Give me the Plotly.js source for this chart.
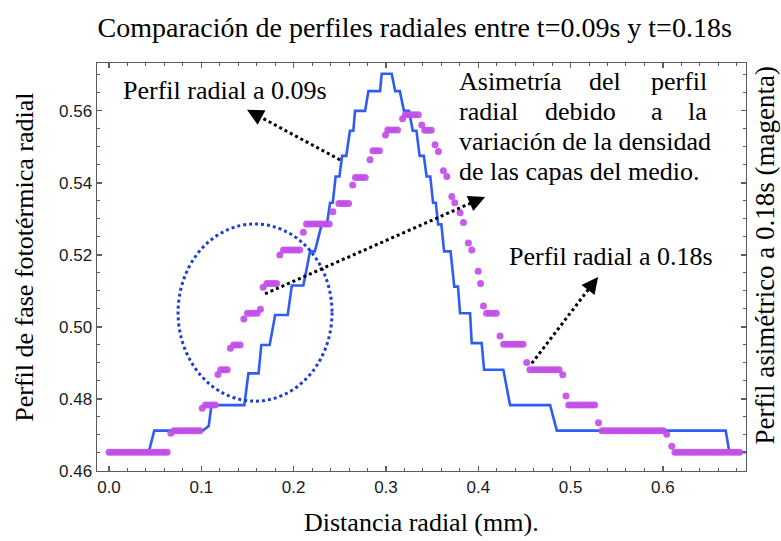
<!DOCTYPE html>
<html>
<head>
<meta charset="utf-8">
<script src="https://cdn.plot.ly/plotly-3.0.1.min.js"></script>
<style>html,body{margin:0;padding:0;background:#fff;}#chart{width:781px;height:541px;}</style>
</head>
<body>
<div id="chart"></div>
<script>
// Perfil radial a 0.09s (blue stepped line): vertices
const blueX = [0.000,0.043,0.049,0.1015,0.108,0.111,0.1466,0.151,0.162,0.165,0.174,0.180,0.1936,0.198,0.2105,0.2178,0.223,0.2304,0.236,0.2395,0.2424,0.2455,0.2496,0.2525,0.2570,0.2610,0.2647,0.2665,0.2774,0.2810,0.2936,0.2954,0.3062,
  0.3100,0.3150,0.3195,0.3250,0.3290,0.3330,0.3365,0.3410,0.3440,0.3480,0.3510,0.3540,0.3565,0.3600,0.3630,0.3700,0.3740,0.3780,0.3803,0.3911,0.3929,0.4037,0.4063,0.4272,0.4344,0.4778,0.4851,0.668,0.672,0.690];
const blueY = [0.4652,0.4652,0.4712,0.4712,0.4725,0.4783,0.4783,0.4871,0.4871,0.4950,0.4950,0.5033,0.5033,0.5115,0.5115,0.5210,0.5210,0.5285,0.5285,0.5345,0.5345,0.5418,0.5418,0.5475,0.5475,0.5545,0.5545,0.5600,0.5600,0.5655,0.5655,0.5703,0.5703,
  0.5655,0.5655,0.5600,0.5600,0.5545,0.5545,0.5475,0.5475,0.5418,0.5418,0.5345,0.5345,0.5285,0.5285,0.5210,0.5210,0.5112,0.5112,0.5038,0.5038,0.4955,0.4955,0.4881,0.4881,0.4783,0.4783,0.4712,0.4712,0.4652,0.4652];

// Perfil radial a 0.18s (magenta points)
const magX = [
  0,0.0035,0.007,0.0105,0.014,0.0175,0.021,0.0245,0.028,0.0315,0.035,0.0385,0.042,0.0455,0.049,0.0525,0.056,0.0595,0.063,
  0.067,
  0.0705,0.074,0.0775,0.081,0.0845,0.088,0.0915,0.095,0.0985,
  0.101,
  0.1045,0.108,0.1115,0.115,
  0.118,
  0.121,0.1245,0.128,
  0.1315,
  0.135,0.1385,0.142,
  0.146,
  0.150,0.1535,0.157,0.1605,
  0.164,0.167,
  0.171,0.1745,0.178,0.1815,
  0.185,
  0.189,0.1925,0.196,0.1995,0.203,0.2065,
  0.2105,
  0.214,0.2175,0.221,0.2245,0.228,0.2315,0.235,0.2385,
  0.2425,
  0.249,0.2525,0.256,0.2595,
  0.264,
  0.267,0.2705,0.274,0.2775,
  0.2828,
  0.286,0.2895,0.293,
  0.2995,
  0.302,0.3055,0.309,0.3125,
  0.318,
  0.321,0.3245,0.328,0.3315,0.335,
  0.3388,
  0.342,0.3455,0.349,
  0.3532,0.3568,0.3622,0.3660,0.3713,0.3745,0.3803,0.3840,0.3893,0.3930,0.3999,0.4025,0.4056,
  0.409,0.4125,0.416,0.4195,
  0.4236,
  0.4275,0.431,0.4345,0.438,0.4415,0.445,0.4485,
  0.4525,
  0.456,0.4595,0.463,0.4665,0.470,0.4735,0.477,0.4805,0.484,0.4875,
  0.4915,0.495,
  0.498,0.5015,0.505,0.5085,0.512,0.5155,0.519,0.5225,0.526,
  0.5302,
  0.534,0.5375,0.541,0.5445,0.548,0.5515,0.555,0.5585,0.562,0.5655,0.569,0.5725,0.576,0.5795,0.583,0.5865,0.590,0.5935,0.597,0.6005,
  0.6042,0.6096,
  0.613,0.6165,0.620,0.6235,0.627,0.6305,0.634,0.6375,0.641,0.6445,0.648,0.6515,0.655,0.6585,0.662,0.6655,0.669,0.6725,0.676,0.6795,0.683
];
const magY = [
  0.4652,0.4652,0.4652,0.4652,0.4652,0.4652,0.4652,0.4652,0.4652,0.4652,0.4652,0.4652,0.4652,0.4652,0.4652,0.4652,0.4652,0.4652,0.4652,
  0.4705,
  0.4712,0.4712,0.4712,0.4712,0.4712,0.4712,0.4712,0.4712,0.4712,
  0.4774,
  0.4783,0.4783,0.4783,0.4783,
  0.4868,
  0.4881,0.4881,0.4881,
  0.4941,
  0.4950,0.4950,0.4950,
  0.5022,
  0.5038,0.5038,0.5038,0.5038,
  0.5049,0.5110,
  0.5121,0.5121,0.5121,0.5121,
  0.5200,
  0.5214,0.5214,0.5214,0.5214,0.5214,0.5214,
  0.5263,
  0.5286,0.5286,0.5286,0.5286,0.5286,0.5286,0.5286,0.5286,
  0.5320,
  0.5343,0.5343,0.5343,0.5343,
  0.5394,
  0.5415,0.5415,0.5415,0.5415,
  0.5464,
  0.5489,0.5489,0.5489,
  0.5533,
  0.5547,0.5547,0.5547,0.5547,
  0.5578,
  0.5589,0.5589,0.5589,0.5589,0.5589,
  0.5561,
  0.5546,0.5546,0.5546,
  0.5506,0.5487,0.5434,0.5418,0.5362,0.5345,0.5317,0.5290,0.5233,0.5214,0.5155,0.5121,0.5058,
  0.5038,0.5038,0.5038,0.5038,
  0.4975,
  0.4952,0.4952,0.4952,0.4952,0.4952,0.4952,0.4952,
  0.4901,
  0.4881,0.4881,0.4881,0.4881,0.4881,0.4881,0.4881,0.4881,0.4881,0.4881,
  0.4867,0.4808,
  0.4783,0.4783,0.4783,0.4783,0.4783,0.4783,0.4783,0.4783,0.4783,
  0.4734,
  0.4712,0.4712,0.4712,0.4712,0.4712,0.4712,0.4712,0.4712,0.4712,0.4712,0.4712,0.4712,0.4712,0.4712,0.4712,0.4712,0.4712,0.4712,0.4712,0.4712,
  0.4702,0.4669,
  0.4652,0.4652,0.4652,0.4652,0.4652,0.4652,0.4652,0.4652,0.4652,0.4652,0.4652,0.4652,0.4652,0.4652,0.4652,0.4652,0.4652,0.4652,0.4652,0.4652,0.4652
];

const xTickVals = [0, 0.1, 0.2, 0.3, 0.4, 0.5, 0.6];
const xTickText = ['0.0','0.1','0.2','0.3','0.4','0.5','0.6'];
const yTickVals = [0.46, 0.48, 0.50, 0.52, 0.54, 0.56];
const yTickText = ['0.46','0.48','0.50','0.52','0.54','0.56'];

const titleText = 'Comparación de perfiles radiales entre t=0.09s y t=0.18s';
const xTitle = 'Distancia radial (mm).';
const yTitle = 'Perfil de fase fototérmica radial';
const y2Title = 'Perfil asimétrico a 0.18s (magenta)';

const serif = 'Liberation Serif, Times New Roman, serif';
const sans = 'Liberation Sans, Arial, sans-serif';
const axColor = '#56605f';

const traces = [
  {x: blueX, y: blueY, type: 'scatter', mode: 'lines', line: {color: '#2f5cf2', width: 2.6}, hoverinfo: 'skip'},
  {x: magX, y: magY, type: 'scatter', mode: 'markers', marker: {color: '#c24ee8', size: 7, opacity: 0.92}, hoverinfo: 'skip'}
];

function axis(range, tv, tt, minorD) {
  return {
    range: range, tickmode: 'array', tickvals: tv, ticktext: tt,
    ticks: 'inside', ticklen: 5, tickwidth: 1.2, tickcolor: axColor,
    showline: true, linecolor: axColor, linewidth: 1.4, mirror: 'allticks',
    showgrid: false, zeroline: false,
    tickfont: {family: sans, size: 17, color: '#1a1a1a'},
    minor: {dtick: minorD, ticks: 'inside', ticklen: 3, tickwidth: 1, tickcolor: axColor, showgrid: false}
  };
}
const xa = axis([-0.013, 0.69], xTickVals, xTickText, 0.02);
xa.minor.tick0 = 0;
const ya = axis([0.46, 0.5733], yTickVals, yTickText, 0.005);
ya.minor.tick0 = 0.46;

const dotLine = {color: '#000', width: 3, dash: 'dot'};
const shapes = [
  {type: 'circle', xref: 'x', yref: 'y', x0: 0.0748, x1: 0.2416, y0: 0.4794, y1: 0.5286, line: {color: '#1c3fd2', width: 3, dash: 'dot'}},
  {type: 'line', xref: 'x', yref: 'y', x0: 0.2503, y0: 0.5464, x1: 0.161, y1: 0.5587, line: dotLine},
  {type: 'line', xref: 'x', yref: 'y', x0: 0.458, y0: 0.4899, x1: 0.5219, y1: 0.5113, line: dotLine},
  {type: 'line', xref: 'x', yref: 'y', x0: 0.169, y0: 0.5092, x1: 0.3955, y1: 0.5348, line: dotLine}
];

const tf = {family: serif, size: 26, color: '#000'};
function head(x, y, ax, ay) {
  return {x: x, y: y, xref: 'x', yref: 'y', ax: ax, ay: ay, text: '', showarrow: true,
    arrowhead: 2, arrowsize: 1.5, arrowwidth: 2.2, arrowcolor: '#000'};
}
const annotations = [
  {x: 0.013, y: 0.5658, xref: 'x', yref: 'y', text: 'Perfil radial a 0.09s', showarrow: false, xanchor: 'left', yanchor: 'middle', font: tf},
  {x: 0.4309, y: 0.5195, xref: 'x', yref: 'y', text: 'Perfil radial a 0.18s', showarrow: false, xanchor: 'left', yanchor: 'middle', font: tf},
  // justified text block
  {x: 0.377, y: 0.5681, xref: 'x', yref: 'y', text: 'Asimetría', showarrow: false, xanchor: 'left', yanchor: 'middle', font: tf},
  {x: 0.5374, y: 0.5681, xref: 'x', yref: 'y', text: 'del', showarrow: false, xanchor: 'center', yanchor: 'middle', font: tf},
  {x: 0.650, y: 0.5681, xref: 'x', yref: 'y', text: 'perfil', showarrow: false, xanchor: 'right', yanchor: 'middle', font: tf},
  {x: 0.377, y: 0.5597, xref: 'x', yref: 'y', text: 'radial', showarrow: false, xanchor: 'left', yanchor: 'middle', font: tf},
  {x: 0.5103, y: 0.5597, xref: 'x', yref: 'y', text: 'debido', showarrow: false, xanchor: 'center', yanchor: 'middle', font: tf},
  {x: 0.5937, y: 0.5597, xref: 'x', yref: 'y', text: 'a', showarrow: false, xanchor: 'center', yanchor: 'middle', font: tf},
  {x: 0.650, y: 0.5597, xref: 'x', yref: 'y', text: 'la', showarrow: false, xanchor: 'right', yanchor: 'middle', font: tf},
  {x: 0.377, y: 0.5514, xref: 'x', yref: 'y', text: 'variación de la densidad', showarrow: false, xanchor: 'left', yanchor: 'middle', font: tf},
  {x: 0.377, y: 0.5431, xref: 'x', yref: 'y', text: 'de las capas del medio.', showarrow: false, xanchor: 'left', yanchor: 'middle', font: tf},
  head(0.1495, 0.5603, 8.8, 4.7),
  head(0.5298, 0.5139, -6.1, 7.9),
  head(0.4074, 0.5361, -9.2, 4.0),
  // titles
  {x: 0.5, y: -0.125, xref: 'paper', yref: 'paper', text: xTitle, showarrow: false, xanchor: 'center', yanchor: 'middle', font: tf},
  {x: -0.111, y: 0.525, xref: 'paper', yref: 'paper', text: yTitle, showarrow: false, textangle: -90, xanchor: 'center', yanchor: 'middle', font: tf},
  {x: 1.029, y: 0.53, xref: 'paper', yref: 'paper', text: y2Title, showarrow: false, textangle: -90, xanchor: 'center', yanchor: 'middle', font: {family: serif, size: 27, color: '#000'}}
];

const layout = {
  width: 781, height: 541,
  margin: {l: 97, r: 35, t: 63, b: 70, pad: 0},
  paper_bgcolor: '#fff', plot_bgcolor: '#fff',
  showlegend: false,
  title: {text: titleText, font: {family: serif, size: 28, color: '#000'}, x: 0.531, xref: 'container', y: 0.95, yref: 'container', xanchor: 'center', yanchor: 'middle'},
  xaxis: xa, yaxis: ya,
  shapes: shapes, annotations: annotations
};
Plotly.newPlot('chart', traces, layout, {staticPlot: true, displayModeBar: false});
</script>
</body>
</html>
